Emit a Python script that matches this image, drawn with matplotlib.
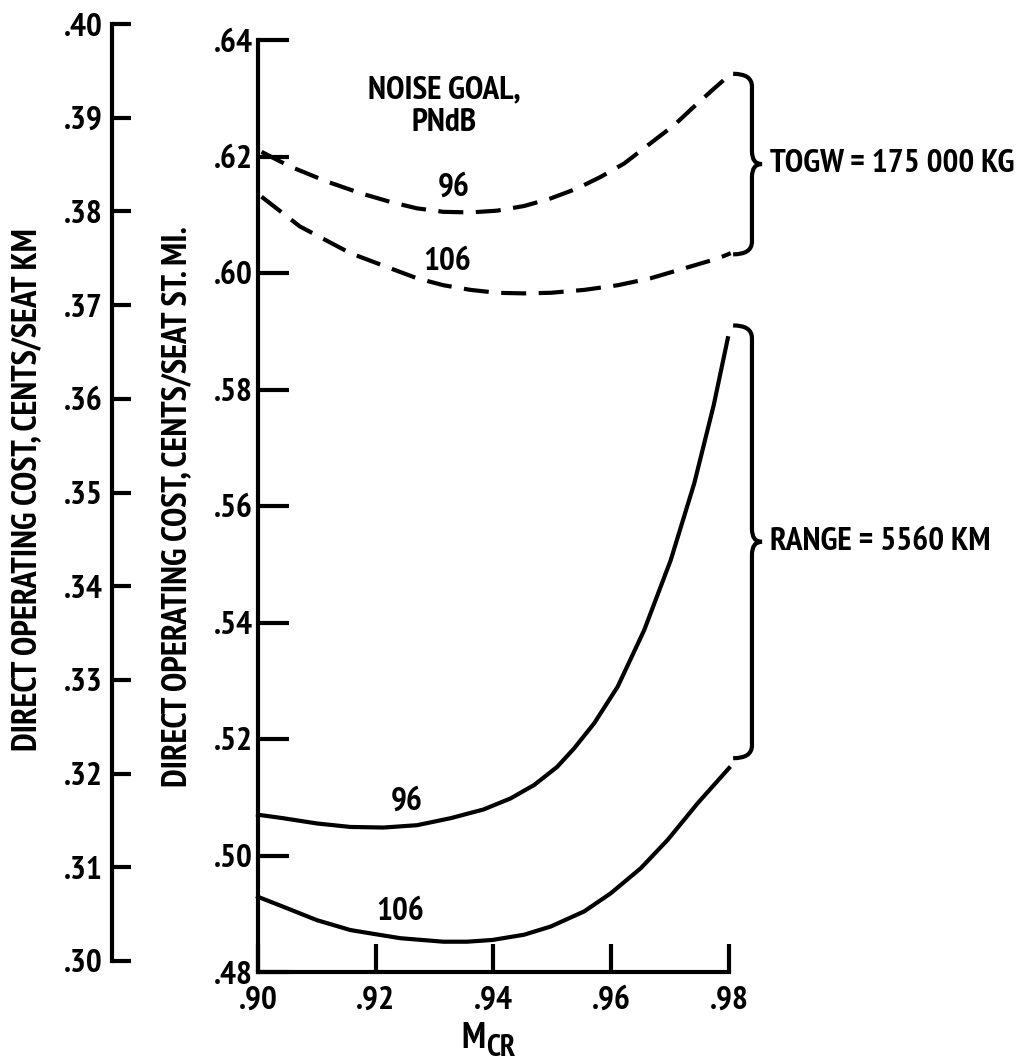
import numpy as np
import matplotlib.pyplot as plt
from matplotlib import font_manager as fm
from matplotlib.path import Path
from matplotlib.patches import PathPatch

# cruise Mach vs direct operating cost (cents/seat st. mi.)
mach_dash96 = [0.9006, 0.9054, 0.9117, 0.9174, 0.9225, 0.9270, 0.9315, 0.9361, 0.9406, 0.9452,
               0.9497, 0.9542, 0.9582, 0.9622, 0.9667, 0.9707, 0.9741, 0.9775, 0.9801]
doc_dash96 = [0.6208, 0.6183, 0.6157, 0.6137, 0.6122, 0.6111, 0.6105, 0.6104, 0.6107, 0.6115,
              0.6128, 0.6145, 0.6165, 0.6188, 0.6223, 0.6254, 0.6286, 0.6317, 0.6340]

mach_dash106 = [0.9006, 0.9071, 0.9157, 0.9225, 0.9270, 0.9315, 0.9361, 0.9406, 0.9452, 0.9497,
                0.9554, 0.9611, 0.9667, 0.9724, 0.9781, 0.9803]
doc_dash106 = [0.6131, 0.6080, 0.6034, 0.6008, 0.5991, 0.5979, 0.5971, 0.5966, 0.5965, 0.5966,
               0.5971, 0.5979, 0.5991, 0.6008, 0.6025, 0.6034]

mach_solid96 = [0.9000, 0.9043, 0.9100, 0.9157, 0.9213, 0.9270, 0.9327, 0.9383, 0.9429, 0.9469,
                0.9508, 0.9537, 0.9571, 0.9611, 0.9656, 0.9701, 0.9741, 0.9774, 0.9798]
doc_solid96 = [0.5070, 0.5064, 0.5055, 0.5049, 0.5048, 0.5052, 0.5064, 0.5079, 0.5098, 0.5121,
               0.5152, 0.5184, 0.5227, 0.5290, 0.5387, 0.5507, 0.5639, 0.5773, 0.5888]

mach_solid106 = [0.9000, 0.9043, 0.9100, 0.9157, 0.9199, 0.9242, 0.9315, 0.9355, 0.9398, 0.9452,
                 0.9497, 0.9554, 0.9599, 0.9650, 0.9696, 0.9747, 0.9800]
doc_solid106 = [0.4929, 0.4912, 0.4889, 0.4872, 0.4865, 0.4858, 0.4852, 0.4852, 0.4855, 0.4864,
                0.4878, 0.4904, 0.4935, 0.4978, 0.5027, 0.5090, 0.5150]

x_ticks = [0.90, 0.92, 0.94, 0.96, 0.98]
y_ticks_mi = [0.48, 0.50, 0.52, 0.54, 0.56, 0.58, 0.60, 0.62, 0.64]
y_ticks_km = [0.30, 0.31, 0.32, 0.33, 0.34, 0.35, 0.36, 0.37, 0.38, 0.39, 0.40]


# the original lettering is a narrow sans; use a condensed face if one is installed
def pick_narrow():
    best = None
    for f in fm.fontManager.ttflist:
        nm = f.name.lower()
        st = str(f.stretch).lower()
        if 'narrow' in nm:
            rank = 0
        elif 'condensed' in nm or st in ('condensed', 'semi-condensed', '87.5', '75'):
            rank = 1 if 'extra' not in nm and 'extra' not in st else 3
            if 'dejavu' in nm:
                rank = 1
            elif 'noto' in nm:
                rank = 2
        else:
            continue
        w = f.weight if isinstance(f.weight, int) else (700 if 'bold' in str(f.weight) else 400)
        key = (rank, abs(w - 700), 'italic' in str(f.style) or 'oblique' in str(f.style))
        if best is None or key < best[0]:
            best = (key, f.fname)
    return best[1] if best else None


narrow = pick_narrow()
if narrow:
    FS = 24
    base = dict(fname=narrow)
else:
    FS = 18
    base = dict(family=['Liberation Sans', 'DejaVu Sans'], weight='bold')


def fp(size=None):
    return fm.FontProperties(size=size or FS, **base)


W, H = 1020, 1063
fig = plt.figure(figsize=(W / 100, H / 100), dpi=100)
LW = 3


def fx(px):
    return px / W


def fy(py):
    return 1 - py / H


def dot_fmt(v):
    return '.%02d' % round(v * 100)


# main axes
ax = fig.add_axes([fx(258), fy(972), (729 - 258) / W, (972 - 40) / H])
ax.set_xlim(0.90, 0.98)
ax.set_ylim(0.48, 0.64)
for s in ['top', 'right']:
    ax.spines[s].set_visible(False)
for s in ['left', 'bottom']:
    ax.spines[s].set_linewidth(LW)
ax.set_xticks(x_ticks)
ax.set_xticklabels([dot_fmt(v) for v in x_ticks])
ax.set_yticks(y_ticks_mi)
ax.set_yticklabels([dot_fmt(v) for v in y_ticks_mi])
ax.tick_params(axis='y', direction='in', length=22, width=LW, pad=4)
ax.tick_params(axis='x', direction='in', length=20, width=LW, pad=10)
for lab in ax.get_xticklabels() + ax.get_yticklabels():
    lab.set_fontproperties(fp())

dash = (0, (6, 3))
ax.plot(mach_dash96, doc_dash96, color='black', lw=LW, linestyle=dash, clip_on=False)
ax.plot(mach_dash106, doc_dash106, color='black', lw=LW, linestyle=dash, clip_on=False)
ax.plot(mach_solid96, doc_solid96, color='black', lw=LW, clip_on=False)
ax.plot(mach_solid106, doc_solid106, color='black', lw=LW, clip_on=False)

ax.text(0.9316, 0.6285, 'NOISE GOAL,\nPNdB', ha='center', va='center', fontproperties=fp(),
        linespacing=1.1)
ax.text(0.9332, 0.6146, '96', ha='center', va='center', fontproperties=fp())
ax.text(0.9322, 0.6019, '106', ha='center', va='center', fontproperties=fp())
ax.text(0.9253, 0.5092, '96', ha='center', va='center', fontproperties=fp())
ax.text(0.9242, 0.4903, '106', ha='center', va='center', fontproperties=fp())

# x label: M with subscript CR
fig.text(fx(473), fy(1039), 'M', ha='center', va='center', fontproperties=fp(FS + 2))
fig.text(fx(486), fy(1048), 'CR', ha='left', va='center', fontproperties=fp(FS - 2))


def brace(y_top, y_bot, label):
    xl, xm, xt = 0.9807, 0.9839, 0.9856
    r = 0.0022
    yc = (y_top + y_bot) / 2
    verts = [(xl, y_top), (xm, y_top), (xm, y_top - r),
             (xm, yc + r), (xm, yc), (xt, yc), (xm, yc), (xm, yc - r),
             (xm, y_bot + r), (xm, y_bot), (xl, y_bot)]
    codes = [Path.MOVETO, Path.CURVE3, Path.CURVE3,
             Path.LINETO, Path.CURVE3, Path.CURVE3, Path.CURVE3, Path.CURVE3,
             Path.LINETO, Path.CURVE3, Path.CURVE3]
    ax.add_patch(PathPatch(Path(verts, codes), fill=False, lw=LW, clip_on=False))
    ax.text(0.9869, yc, label, ha='left', va='center', fontproperties=fp(), clip_on=False)


brace(doc_dash96[-1] + 0.0002, doc_dash106[-1] - 0.0002, 'TOGW = 175 000 KG')
brace(doc_solid96[-1] + 0.0022, doc_solid106[-1] + 0.0017, 'RANGE = 5560 KM')

# secondary scale in cents/seat km
ax2 = fig.add_axes([fx(112), fy(961), 0.05, (961 - 24) / H])
ax2.set_ylim(0.30, 0.40)
ax2.set_xticks([])
for s in ['top', 'right', 'bottom']:
    ax2.spines[s].set_visible(False)
ax2.spines['left'].set_linewidth(LW)
ax2.patch.set_visible(False)
ax2.set_yticks(y_ticks_km)
ax2.set_yticklabels([dot_fmt(v) for v in y_ticks_km])
ax2.tick_params(axis='y', direction='in', length=14, width=LW, pad=7)
for lab in ax2.get_yticklabels():
    lab.set_fontproperties(fp())

fig.text(fx(27), fy(490), 'DIRECT OPERATING COST, CENTS/SEAT KM', rotation=90,
         ha='center', va='center', fontproperties=fp(FS + 1))
fig.text(fx(177), fy(507), 'DIRECT OPERATING COST, CENTS/SEAT ST. MI.', rotation=90,
         ha='center', va='center', fontproperties=fp(FS + 1))

fig.savefig('out.png', dpi=100, facecolor='white')
